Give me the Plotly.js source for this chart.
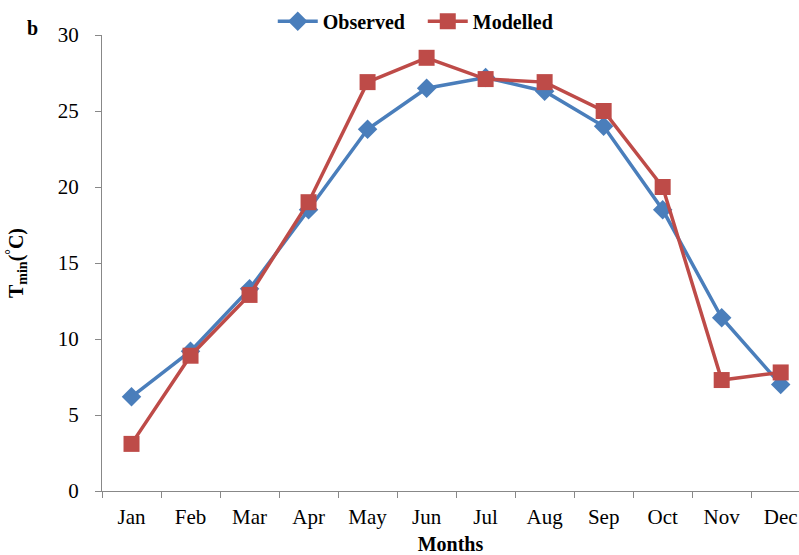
<!DOCTYPE html>
<html>
<head>
<meta charset="utf-8">
<script src="https://cdn.plot.ly/plotly-3.0.1.min.js"></script>
<style>
  html, body { margin: 0; padding: 0; background: #fff; overflow: hidden; }
  #chart { width: 799px; height: 555px; }
</style>
</head>
<body>
<div id="chart"></div>
<script>
// Monthly minimum temperature: observed vs modelled
const months = ['Jan', 'Feb', 'Mar', 'Apr', 'May', 'Jun', 'Jul', 'Aug', 'Sep', 'Oct', 'Nov', 'Dec'];
const observed = [6.2, 9.2, 13.3, 18.5, 23.8, 26.5, 27.2, 26.3, 24.0, 18.5, 11.4, 7.0];
const modelled = [3.1, 8.9, 12.9, 19.0, 26.9, 28.5, 27.1, 26.9, 25.0, 20.0, 7.3, 7.8];

const serif = 'Liberation Serif, Times New Roman, serif';

const traces = [
  {
    x: months, y: observed, name: 'Observed', type: 'scatter', mode: 'lines+markers',
    line: { color: '#4a7ebb', width: 3.5 },
    marker: { symbol: 'diamond', size: 15, color: '#4a7ebb' }
  },
  {
    x: months, y: modelled, name: 'Modelled', type: 'scatter', mode: 'lines+markers',
    line: { color: '#be4b48', width: 3.5 },
    marker: { symbol: 'square', size: 16, color: '#be4b48' }
  }
];

const layout = {
  width: 799, height: 555,
  margin: { l: 102, r: 0, t: 35, b: 64 },
  paper_bgcolor: '#fff', plot_bgcolor: '#fff',
  font: { family: serif, size: 20, color: '#000' },
  showlegend: true,
  legend: {
    orientation: 'h', x: 0.245, y: 1.03, xanchor: 'left', yanchor: 'middle',
    font: { family: serif, size: 20, color: '#000', weight: 'bold' },
    itemwidth: 40, entrywidth: 95, entrywidthmode: 'pixels',
    tracegroupgap: 0, bgcolor: 'rgba(0,0,0,0)'
  },
  xaxis: {
    type: 'category', range: [-0.5, 11.31],
    showline: true, linecolor: '#888', linewidth: 1,
    ticks: 'outside', tickson: 'boundaries', ticklen: 6, tickcolor: '#888',
    ticklabelstandoff: 7,
    showgrid: false, zeroline: false,
    tickfont: { family: serif, size: 21, color: '#000' },
    title: { text: 'Months', font: { family: serif, size: 20, weight: 'bold', color: '#000' }, standoff: 12 }
  },
  yaxis: {
    range: [0, 30], dtick: 5,
    showline: true, linecolor: '#888', linewidth: 1,
    ticks: 'outside', ticklen: 6, tickcolor: '#888',
    ticklabelstandoff: 12,
    showgrid: false, zeroline: false,
    tickfont: { family: serif, size: 21, color: '#000' },
    title: { text: 'T<sub>min</sub>(<sup>°</sup>C)', font: { family: serif, size: 20, weight: 'bold', color: '#000' }, standoff: 28 }
  },
  annotations: [
    {
      text: '<b>b</b>', xref: 'paper', yref: 'paper', x: -0.11, y: 1.015,
      xanchor: 'left', yanchor: 'middle', showarrow: false,
      font: { family: serif, size: 20, color: '#000' }
    }
  ]
};

Plotly.newPlot('chart', traces, layout, { displayModeBar: false, staticPlot: true });
</script>
</body>
</html>
